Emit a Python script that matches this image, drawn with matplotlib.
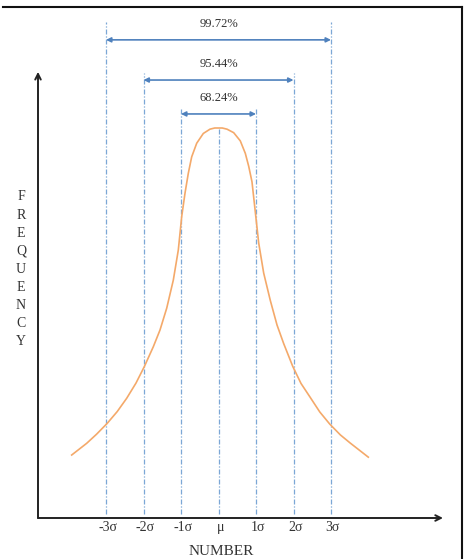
import matplotlib.pyplot as plt
from matplotlib.lines import Line2D

# curve (x in sigma units, y as fraction of the peak)
curve_x = [-3.915, -3.515, -3.25, -2.965, -2.7, -2.448, -2.2, -1.979, -1.739,
           -1.56, -1.381, -1.205, -1.072, -0.981, -0.893, -0.805, -0.715,
           -0.581, -0.405, -0.227, -0.1, 0.0, 0.1, 0.227, 0.405, 0.581, 0.715,
           0.805, 0.893, 0.981, 1.072, 1.205, 1.381, 1.56, 1.739, 1.979, 2.2,
           2.448, 2.7, 2.965, 3.25, 3.515, 3.995]
curve_y = [0.1615, 0.1915, 0.215, 0.243, 0.273, 0.307, 0.346, 0.388, 0.439,
           0.482, 0.538, 0.610, 0.687, 0.773, 0.833, 0.884, 0.926,
           0.961, 0.986, 0.997, 1.0, 1.0, 1.0, 0.997, 0.988, 0.967, 0.935,
           0.902, 0.862, 0.785, 0.705, 0.628, 0.558, 0.495, 0.447, 0.389, 0.345,
           0.309, 0.272, 0.241, 0.213, 0.192, 0.156]

sigma_pos = [-3, -2, -1, 0, 1, 2, 3]
sigma_labels = ['-3σ', '-2σ', '-1σ', 'μ', '1σ', '2σ', '3σ']
line_tops = [1.272, 1.141, 1.051, 1.0, 1.051, 1.141, 1.272]

spans = [1, 2, 3]
span_labels = ['68.24%', '95.44%', '99.72%']
span_y = [1.036, 1.123, 1.226]

BLUE = '#4f81bd'
DASH = '#7ba7d6'
ORANGE = '#f4a96a'
SERIF = ['Liberation Serif', 'DejaVu Serif']

fig = plt.figure(figsize=(4.65, 5.59), dpi=100)
ax = fig.add_axes([0, 0, 1, 1])
# pixel mapping: x = (px - 218.5) / 37.5, y = (518 - py) / 390
ax.set_xlim(-218.5 / 37.5, (465 - 218.5) / 37.5)
ax.set_ylim((518 - 559) / 390, 518 / 390)
ax.axis('off')

x0 = (38 - 218.5) / 37.5
ax.annotate('', xy=(x0, 1.144), xytext=(x0, 0),
            arrowprops=dict(arrowstyle='->', color='#222222', lw=1.4,
                            mutation_scale=10, shrinkA=0, shrinkB=0))
ax.annotate('', xy=((443 - 218.5) / 37.5, 0), xytext=(x0, 0),
            arrowprops=dict(arrowstyle='->', color='#222222', lw=1.4,
                            mutation_scale=10, shrinkA=0, shrinkB=0))

for s, top in zip(sigma_pos, line_tops):
    ax.plot([s, s], [0.01, top], color=DASH, lw=0.9, ls=(0, (4, 1.5, 1, 1.5)))

ax.plot(curve_x, curve_y, color=ORANGE, lw=1.2, solid_joinstyle='round')

for k, lab, y in zip(spans, span_labels, span_y):
    ax.annotate('', xy=(k, y), xytext=(-k, y),
                arrowprops=dict(arrowstyle='<|-|>', color=BLUE, lw=1.2,
                                mutation_scale=7, shrinkA=0, shrinkB=0))
    ax.text(0, y + 0.04, lab, ha='center', va='center', fontsize=9,
            color='#333333', family=SERIF)

for s, lab in zip(sigma_pos, sigma_labels):
    ax.text(s + 0.05, -0.025, lab, ha='center', va='center', fontsize=10,
            color='#333333', family=SERIF)

ax.text(0.08, -0.103, 'NUMBER', ha='center', va='bottom', fontsize=11,
        color='#333333', family=SERIF)

for i, ch in enumerate('FREQUENCY'):
    ax.text((21 - 218.5) / 37.5, (518 - 197 - 18.1 * i) / 390, ch,
            ha='center', va='center', fontsize=10, color='#333333',
            family=SERIF)

# frame lines on top and right
fig.add_artist(Line2D([3 / 465, 462 / 465], [1 - 7 / 559, 1 - 7 / 559],
                      transform=fig.transFigure, color='#111111', lw=1.5))
fig.add_artist(Line2D([462 / 465, 462 / 465], [1 - 7 / 559, 0],
                      transform=fig.transFigure, color='#111111', lw=1.5))

fig.savefig('out.png', dpi=100)
